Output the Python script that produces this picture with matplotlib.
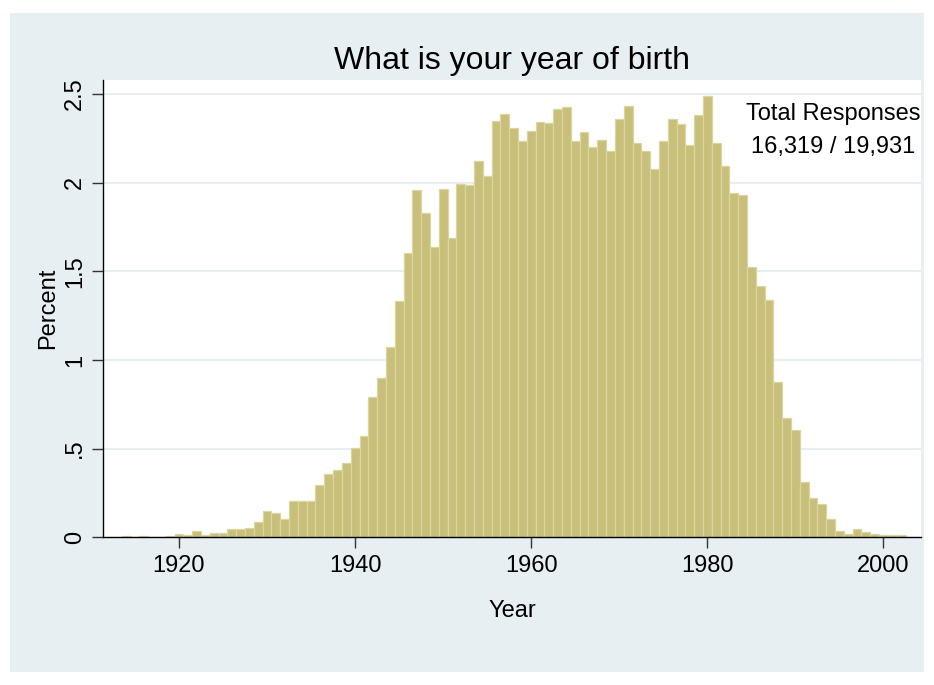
"""Histogram of respondents' year of birth (percent of responses per year)."""
import matplotlib

matplotlib.use("Agg")
import matplotlib.pyplot as plt  # noqa: E402
from matplotlib.patches import Rectangle  # noqa: E402

plt.rcParams["font.family"] = ["Liberation Sans", "DejaVu Sans"]

years = list(range(1914, 2003))
percent = [
    0.006, 0.0, 0.006, 0.0, 0.0, 0.006,                          # 1914-1919
    0.019, 0.013, 0.036, 0.013, 0.024, 0.023, 0.047, 0.045, 0.051, 0.084,  # 1920s
    0.146, 0.135, 0.103, 0.205, 0.205, 0.205, 0.293, 0.358, 0.378, 0.417,  # 1930s
    0.504, 0.570, 0.792, 0.900, 1.073, 1.334, 1.605, 1.960, 1.830, 1.636,  # 1940s
    1.965, 1.690, 1.993, 1.988, 2.125, 2.035, 2.350, 2.387, 2.310, 2.237,  # 1950s
    2.290, 2.344, 2.338, 2.413, 2.425, 2.237, 2.284, 2.200, 2.243, 2.180,  # 1960s
    2.360, 2.432, 2.224, 2.180, 2.078, 2.237, 2.357, 2.330, 2.210, 2.383,  # 1970s
    2.490, 2.226, 2.096, 1.943, 1.933, 1.524, 1.420, 1.336, 0.876, 0.670,  # 1980s
    0.604, 0.310, 0.220, 0.188, 0.101, 0.036, 0.019, 0.045, 0.028, 0.019,  # 1990s
    0.013, 0.013, 0.013,                                          # 2000-2002
]
x_ticks = [1920, 1940, 1960, 1980, 2000]
y_ticks = [0, 0.5, 1, 1.5, 2, 2.5]
y_ticklabels = ["0", ".5", "1", "1.5", "2", "2.5"]
title = "What is your year of birth"
note = ["Total Responses", "16,319 / 19,931"]

W, H = 934, 685
BG = "#e8eff2"
GRID = "#e6eef1"

fig = plt.figure(figsize=(W / 100, H / 100), dpi=100)
fig.patch.set_facecolor("white")
fig.patches.append(Rectangle((10 / W, 13 / H), (924 - 10) / W, (672 - 13) / H,
                             transform=fig.transFigure, facecolor=BG,
                             edgecolor="none", zorder=-10))

ax = fig.add_axes([103 / W, (H - 537.3) / H, (921 - 103) / W, (537.3 - 80) / H])
ax.set_facecolor("white")
ax.bar(years, percent, width=1.0, color="#c8bf7b", edgecolor="#dbd59f",
       linewidth=0.9, zorder=2)

ax.set_xlim(1911.37, 2004.26)
ax.set_ylim(0, 2.579)
ax.set_xticks(x_ticks)
ax.set_yticks(y_ticks)
ax.set_yticklabels(y_ticklabels, rotation=90, va="center")
ax.tick_params(axis="both", labelsize=17, length=8, width=1, color="#333333")
ax.tick_params(axis="x", pad=5)
ax.tick_params(axis="y", pad=4)
for y in y_ticks[1:]:
    ax.axhline(y, color=GRID, lw=1.5, zorder=1)

for side in ("top", "right"):
    ax.spines[side].set_visible(False)
for side in ("left", "bottom"):
    ax.spines[side].set_color("black")
    ax.spines[side].set_linewidth(1.0)
    ax.spines[side].set_zorder(3)

ax.set_title(title, fontsize=23, pad=8)
ax.set_xlabel("Year", fontsize=17, labelpad=16)
ax.set_ylabel("Percent", fontsize=17, labelpad=4)

ax.text(1994.3, 2.39, note[0], ha="center", va="center", fontsize=17)
ax.text(1994.3, 2.20, note[1], ha="center", va="center", fontsize=17)

fig.savefig("out.png", dpi=100)
